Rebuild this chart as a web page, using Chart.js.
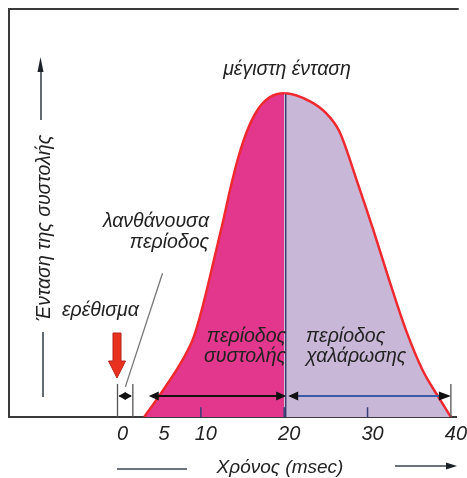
<!DOCTYPE html>
<html>
<head>
<meta charset="utf-8">
<script src="https://cdn.jsdelivr.net/npm/chart.js@4/dist/chart.umd.min.js"></script>
<style>
  html, body { margin: 0; padding: 0; background: #fff; }
  #wrap { width: 467px; height: 478px; }
</style>
</head>
<body>
<div id="wrap"><canvas id="grafica"></canvas></div>
<script>
// Καμπύλη σύσπασης (χρόνος σε msec, ένταση σε % του μεγίστου)
const xronos = [3.2, 5.0, 8.0, 9.15, 10.1, 11.0, 11.85, 12.7, 13.5, 14.4, 15.5, 16.8, 18.3, 20,
                23.1, 25.0, 26.6, 28.7, 30.7, 32.6, 34.6, 36.6, 38.5, 40];
const entasi = [0, 6.5, 18.5, 24.7, 33.0, 42.3, 51.6, 60.8, 70.1, 79.3, 88.0, 94.8, 98.8, 100,
                97.5, 93.9, 88.3, 73.1, 57.7, 42.3, 26.9, 14.5, 6.2, 0];
const koryfi = 20;           // μέγιστη ένταση (msec)

// Άξονας χρόνου
const tickValues = [0, 5, 10, 20, 30, 40];
const tickLabels = ['0', '5', '10', '20', '30', '40'];
const minorTicks = [10, 20, 30];

// Περίοδοι (αρχή, τέλος) σε msec
const lanthanousa = [0, 1.84];
const systoli = [3.75, 20];
const chalarosi = [20, 40];
const arrowLevel = 6.5;      // ύψος βελών
const erethisma = 0;         // στιγμή του ερεθίσματος

// Γραμμή που δείχνει τη λανθάνουσα περίοδο
const pointerX = [5.4, 0.94];
const pointerY = [44.4, 9.3];

const FONT = '"Liberation Sans", Arial, sans-serif';
const toPoints = (xs, ys) => xs.map((x, i) => ({ x: x, y: ys[i] }));

function headTo(ctx, x, y, dir, len, half) {
    ctx.beginPath();
    ctx.moveTo(x, y);
    ctx.lineTo(x - dir * len, y - half);
    ctx.lineTo(x - dir * len, y + half);
    ctx.closePath();
    ctx.fill();
}

const extras = {
    id: 'extras',
    beforeDatasetsDraw(chart) {
        const { ctx, chartArea: a } = chart;
        ctx.save();
        ctx.strokeStyle = '#3a3a3a';
        ctx.lineWidth = 2;
        ctx.beginPath();
        ctx.moveTo(a.right + 2, a.top);
        ctx.lineTo(a.left, a.top);
        ctx.lineTo(a.left, a.bottom);
        ctx.stroke();
        ctx.restore();
    },
    afterDatasetsDraw(chart) {
        const { ctx, chartArea: a } = chart;
        const x = chart.scales.x, y = chart.scales.y;
        const px = v => x.getPixelForValue(v);
        const py = v => y.getPixelForValue(v);
        ctx.save();

        // όριο συστολής / χαλάρωσης
        ctx.strokeStyle = '#3b3d6b';
        ctx.lineWidth = 1.5;
        ctx.beginPath();
        ctx.moveTo(px(koryfi) + 1.5, py(100) + 1);
        ctx.lineTo(px(koryfi) + 1.5, a.bottom);
        ctx.stroke();

        // μικρές υποδιαιρέσεις
        ctx.strokeStyle = '#34407a';
        ctx.lineWidth = 1.5;
        minorTicks.forEach(t => {
            ctx.beginPath();
            ctx.moveTo(px(t), py(3));
            ctx.lineTo(px(t), a.bottom);
            ctx.stroke();
        });

        // κάθετες γραμμές των περιόδων
        ctx.strokeStyle = '#555';
        ctx.lineWidth = 1.3;
        [lanthanousa[0], lanthanousa[1], chalarosi[1]].forEach(t => {
            ctx.beginPath();
            ctx.moveTo(px(t), py(10.2));
            ctx.lineTo(px(t), a.bottom);
            ctx.stroke();
        });

        // βέλη περιόδων
        const ay = py(arrowLevel);
        ctx.fillStyle = '#111';
        ctx.strokeStyle = '#111';
        ctx.lineWidth = 2;
        // λανθάνουσα
        ctx.beginPath();
        ctx.moveTo(px(lanthanousa[0]) + 2, ay);
        ctx.lineTo(px(lanthanousa[1]) - 2, ay);
        ctx.stroke();
        headTo(ctx, px(lanthanousa[0]) + 1, ay, -1, 7, 4);
        headTo(ctx, px(lanthanousa[1]) - 1, ay, 1, 7, 4);
        // συστολή
        ctx.beginPath();
        ctx.moveTo(px(systoli[0]) + 4, ay);
        ctx.lineTo(px(systoli[1]) - 4, ay);
        ctx.stroke();
        headTo(ctx, px(systoli[0]), ay, -1, 10, 4.5);
        headTo(ctx, px(systoli[1]) + 2, ay, 1, 10, 4.5);
        // χαλάρωση
        ctx.strokeStyle = '#3d5aa5';
        ctx.beginPath();
        ctx.moveTo(px(chalarosi[0]) + 6, ay);
        ctx.lineTo(px(chalarosi[1]) - 6, ay);
        ctx.stroke();
        headTo(ctx, px(chalarosi[0]) + 4, ay, -1, 10, 4.5);
        headTo(ctx, px(chalarosi[1]), ay, 1, 12, 4.5);

        // ερέθισμα (κόκκινο βέλος)
        const sx = px(erethisma) - 0.5;
        ctx.fillStyle = '#e8321f';
        ctx.strokeStyle = '#b8231a';
        ctx.lineWidth = 1;
        ctx.beginPath();
        ctx.moveTo(sx - 4, 333);
        ctx.lineTo(sx + 4, 333);
        ctx.lineTo(sx + 4, 361);
        ctx.lineTo(sx + 8.5, 361);
        ctx.lineTo(sx, 378);
        ctx.lineTo(sx - 8.5, 361);
        ctx.lineTo(sx - 4, 361);
        ctx.closePath();
        ctx.fill();
        ctx.stroke();

        // κείμενα
        ctx.fillStyle = '#222';
        ctx.font = 'italic 19.5px ' + FONT;
        ctx.textBaseline = 'middle';
        ctx.textAlign = 'center';
        ctx.fillText('μέγιστη ένταση', 287, 70);
        ctx.textAlign = 'right';
        ctx.fillText('λανθάνουσα', 209, 222);
        ctx.fillText('περίοδος', 209, 243);
        ctx.fillText('περίοδος', 286, 337);
        ctx.fillText('συστολής', 286, 357);
        ctx.textAlign = 'left';
        ctx.fillText('ερέθισμα', 62, 311);
        ctx.fillText('περίοδος', 306, 337);
        ctx.fillText('χαλάρωσης', 306, 357);

        ctx.restore();
    },
    afterDraw(chart) {
        const { ctx } = chart;
        ctx.save();
        ctx.fillStyle = '#222';
        ctx.font = 'italic 19px ' + FONT;
        ctx.textBaseline = 'middle';
        ctx.textAlign = 'center';
        ctx.fillText('Χρόνος (msec)', 280, 468);

        ctx.save();
        ctx.translate(45, 228);
        ctx.rotate(-Math.PI / 2);
        ctx.font = 'italic 19.5px ' + FONT;
        ctx.fillText('Ένταση της συστολής', 0, 0);
        ctx.restore();

        ctx.strokeStyle = '#3c4650';
        ctx.fillStyle = '#1c2228';
        ctx.lineWidth = 1.6;
        ctx.beginPath();
        ctx.moveTo(117, 469); ctx.lineTo(187, 469);
        ctx.moveTo(395, 466); ctx.lineTo(448, 466);
        ctx.moveTo(41, 120); ctx.lineTo(41, 66);
        ctx.moveTo(43, 332); ctx.lineTo(43, 397);
        ctx.stroke();
        headTo(ctx, 457, 466, 1, 11, 3.5);
        ctx.beginPath();
        ctx.moveTo(40.5, 57);
        ctx.lineTo(37.5, 72);
        ctx.lineTo(43.5, 72);
        ctx.closePath();
        ctx.fill();
        ctx.restore();
    }
};

new Chart(document.getElementById('grafica'), {
    type: 'line',
    data: {
        datasets: [{
            label: 'ένταση',
            data: toPoints(xronos, entasi),
            borderColor: '#ee2a30',
            borderWidth: 2.5,
            backgroundColor: '#e2378c',
            fill: 'origin',
            pointRadius: 0,
            cubicInterpolationMode: 'monotone',
            segment: {
                backgroundColor: c => c.p0.parsed.x < koryfi ? '#e2378c' : '#c9b7d8'
            }
        }, {
            label: 'λανθάνουσα περίοδος',
            data: toPoints(pointerX, pointerY),
            borderColor: '#777',
            borderWidth: 1.3,
            pointRadius: 0,
            fill: false
        }]
    },
    options: {
        responsive: true,
        maintainAspectRatio: false,
        animation: false,
        layout: { autoPadding: false, padding: { left: 9, top: 9, right: 0, bottom: 27 } },
        plugins: { legend: { display: false }, tooltip: { enabled: false } },
        scales: {
            x: {
                type: 'linear',
                min: -13.02,
                max: 40.7,
                afterBuildTicks: axis => { axis.ticks = tickValues.map(v => ({ value: v })); },
                grid: { display: false, drawTicks: false },
                border: { display: true, color: '#3a3a3a', width: 2 },
                ticks: {
                    padding: 5,
                    labelOffset: 5,
                    color: '#222',
                    font: { family: FONT, size: 20, style: 'italic' },
                    callback: value => tickLabels[tickValues.indexOf(value)]
                }
            },
            y: { display: false, min: 0, max: 126 }
        }
    },
    plugins: [extras]
});
</script>
</body>
</html>
